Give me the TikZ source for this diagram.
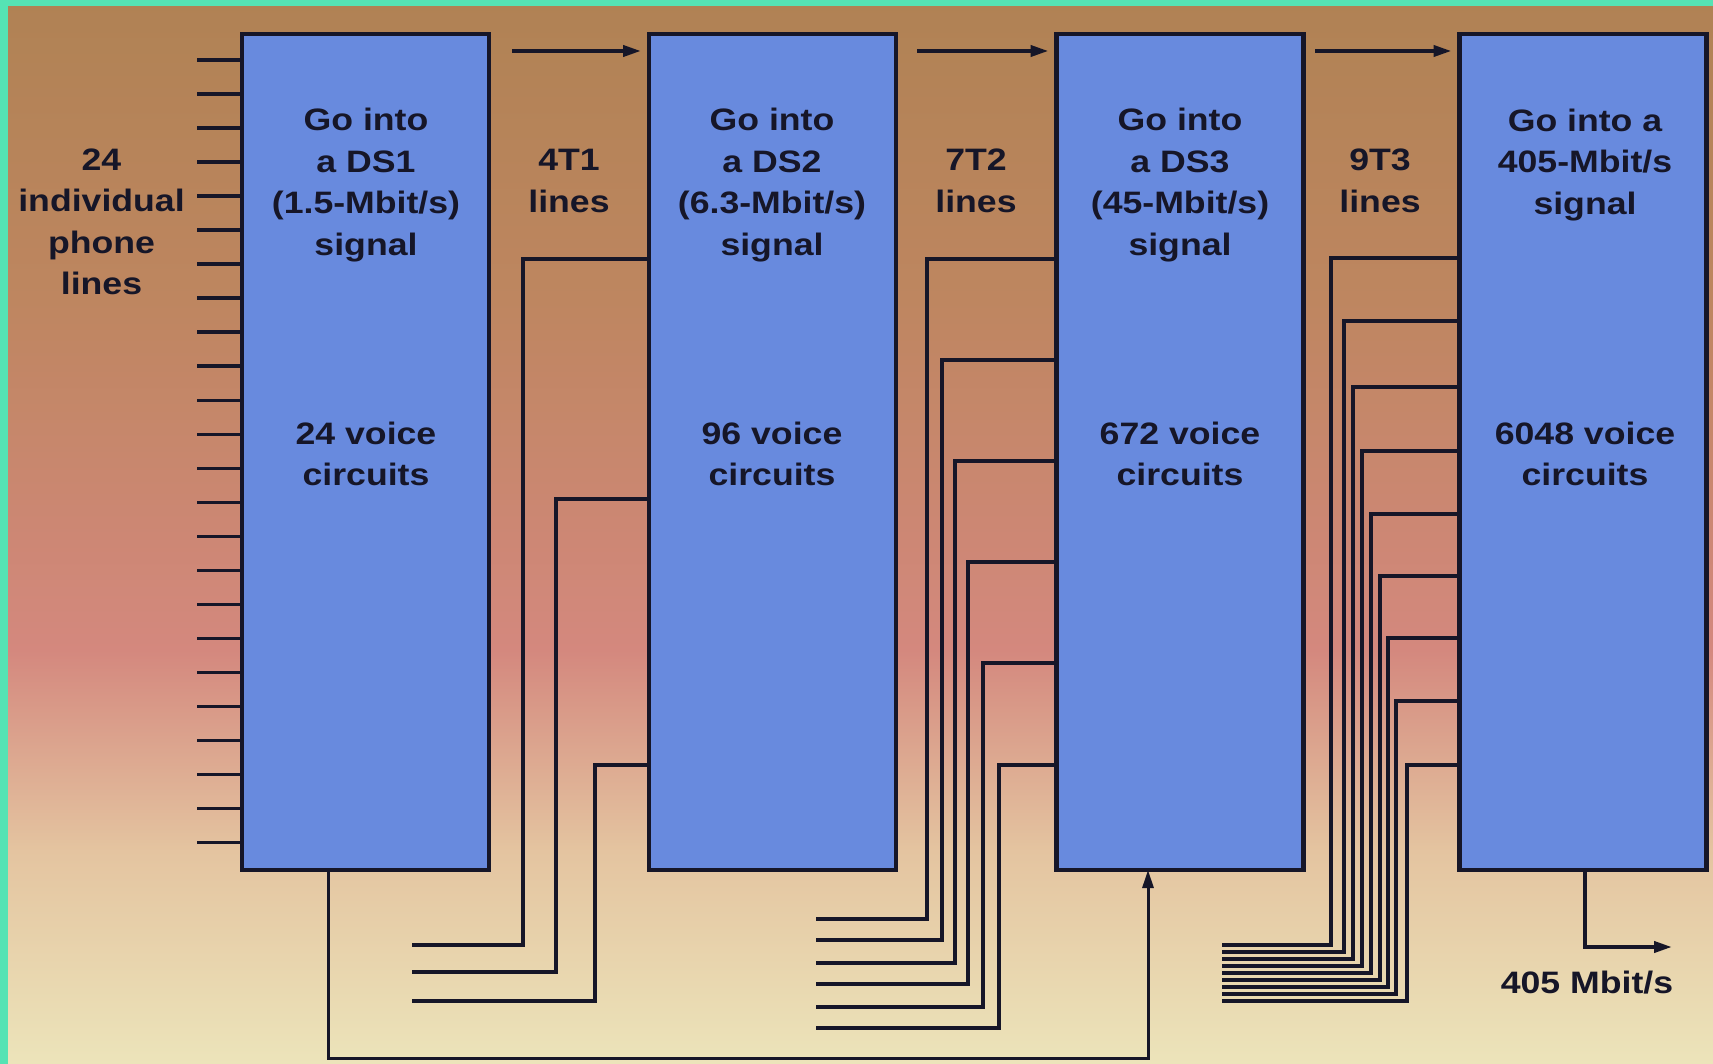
\documentclass[tikz,border=0pt]{standalone}
\usepackage{fontspec}
\newfontfamily\lblfont{Liberation Sans}[FakeStretch=1.15]
\usetikzlibrary{arrows.meta}
\definecolor{teal1}{RGB}{85,227,180}
\definecolor{boxblue}{RGB}{104,138,222}
\definecolor{inkc}{RGB}{22,22,40}
\definecolor{bgA}{RGB}{176,130,84}
\definecolor{bgB}{RGB}{190,134,96}
\definecolor{bgC}{RGB}{212,136,126}
\definecolor{bgD}{RGB}{228,196,160}
\definecolor{bgE}{RGB}{236,228,186}
\begin{document}
\begin{tikzpicture}[x=1pt,y=-1pt,
  box/.style={draw=inkc, line width=4.6pt, fill=boxblue, minimum width=247pt, minimum height=836pt, inner sep=0pt, outer sep=0pt},
  lbl/.style={text=inkc, align=center, font=\lblfont\bfseries\fontsize{31}{41.5}\selectfont, inner sep=0pt},
  wire/.style={draw=inkc, line width=3.8pt},
  arr/.style={wire, -{Triangle[length=18pt,width=11pt]}},
]
\useasboundingbox (0,0) rectangle (1713,1064);
% background
\fill[top color=bgA, bottom color=bgB, draw=none] (0,0) rectangle (1713,301);
\fill[top color=bgB, bottom color=bgC, draw=none] (0,300) rectangle (1713,651);
\fill[top color=bgC, bottom color=bgD, draw=none] (0,650) rectangle (1713,851);
\fill[top color=bgD, bottom color=bgE, draw=none] (0,850) rectangle (1713,1064);
\fill[teal1] (0,0) rectangle (1713,6);
\fill[teal1] (0,0) rectangle (8,1064);

% boxes
\node[box] (b1) at (365.5,452) {};
\node[box] (b2) at (772.5,452) {};
\node[box] (b3) at (1180,452) {};
\node[box] (b4) at (1583,452) {};

% labels
\node[lbl] (t0) at (101.5,222) {24\\individual\\phone\\lines};
\node[lbl] (t1a) at (366,185) {Go into\\a DS1\\(1.5-Mbit/s)\\signal};
\node[lbl] (t1b) at (366,454) {24 voice\\circuits};
\node[lbl] (g1) at (569,181) {4T1\\lines};
\node[lbl] (t2a) at (772,185) {Go into\\a DS2\\(6.3-Mbit/s)\\signal};
\node[lbl] (t2b) at (772,454) {96 voice\\circuits};
\node[lbl] (g2) at (976,181) {7T2\\lines};
\node[lbl] (t3a) at (1180,185) {Go into\\a DS3\\(45-Mbit/s)\\signal};
\node[lbl] (t3b) at (1180,454) {672 voice\\circuits};
\node[lbl] (g3) at (1380,181) {9T3\\lines};
\node[lbl] (t4a) at (1585,165) {Go into a\\405-Mbit/s\\signal};
\node[lbl] (t4b) at (1585,454) {6048 voice\\circuits};
\node[lbl] (out) at (1587,983) {405 Mbit/s};

% 24 phone line ticks
\foreach \i in {0,...,23}{
  \coordinate (tk\i) at (197,{60.4+34*\i});
  \draw[wire] (tk\i) -- (tk\i -| b1.west);
}

% T1 lines into DS2
\foreach \ey/\vx/\by [count=\k] in {259/523/945, 499/556/972, 765/595/1001}{
  \coordinate (pa\k) at (412,\by);
  \coordinate (qa\k) at (\vx,\ey);
  \draw[wire] (pa\k) -| (qa\k) -- (qa\k -| b2.west);
}
% T2 lines into DS3
\foreach \ey/\vx/\by [count=\k] in {259/927/919, 360/942/940, 461/955/963, 562/968/984, 663/983/1007, 765/999/1028}{
  \coordinate (pb\k) at (816,\by);
  \coordinate (qb\k) at (\vx,\ey);
  \draw[wire] (pb\k) -| (qb\k) -- (qb\k -| b3.west);
}
% T3 lines into 405 Mbit/s
\foreach \ey/\vx/\by [count=\k] in {258/1331/945, 321/1344/952, 387/1353/959, 451/1362/966, 514/1371/973, 576/1380/980, 638/1388/987, 701/1396/994, 765/1407/1001}{
  \coordinate (pc\k) at (1222,\by);
  \coordinate (qc\k) at (\vx,\ey);
  \draw[wire, line width=3.4pt] (pc\k) -| (qc\k) -- (qc\k -| b4.west);
}

% top arrows
\coordinate (a1) at (512,51);
\coordinate (a2) at (917,51);
\coordinate (a3) at (1315,51);
\draw[arr, shorten >=8pt] (a1) -- (a1 -| b2.west);
\draw[arr, shorten >=8pt] (a2) -- (a2 -| b3.west);
\draw[arr, shorten >=8pt] (a3) -- (a3 -| b4.west);

% loop from DS1 to DS3
\coordinate (l1) at (328,1058);
\coordinate (l2) at (1148,1058);
\draw[arr, line width=3pt] (l1 |- b1.south) -- (l1) -- (l2) -- (l2 |- b3.south);

% output
\coordinate (o1) at (1585,947);
\coordinate (o2) at (1672,947);
\draw[arr] (o1 |- b4.south) -- (o1) -- (o2);
\end{tikzpicture}
\end{document}
